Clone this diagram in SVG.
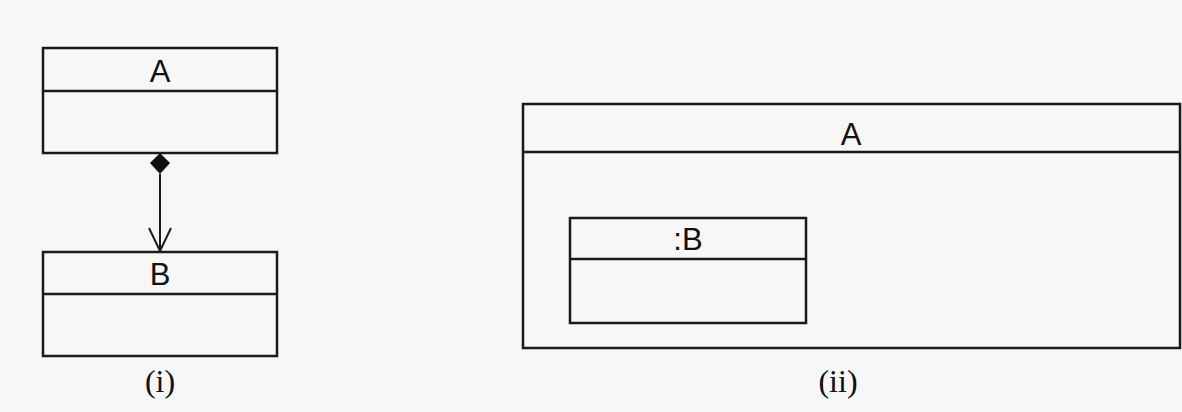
<svg xmlns="http://www.w3.org/2000/svg" width="1182" height="412" viewBox="0 0 1182 412">
<style>
.box{fill:none;stroke:#1a1a1a;stroke-width:2.5}
.lbl{font-family:"Liberation Sans",Arial,sans-serif;font-size:31px;fill:#111;text-anchor:middle}
.cap{font-family:"Liberation Serif","Times New Roman",serif;font-size:32px;fill:#111;text-anchor:middle}
</style>
<rect width="1182" height="412" fill="#f7f7f7"/>
<g id="classA">
<rect class="box" x="43" y="48" width="234" height="105"/>
<line class="box" x1="43" y1="91" x2="277" y2="91"/>
<text class="lbl" x="160" y="82">A</text>
</g>
<g id="classB">
<rect class="box" x="43" y="252" width="234" height="104"/>
<line class="box" x1="43" y1="294" x2="277" y2="294"/>
<text class="lbl" x="160" y="285">B</text>
</g>
<g id="connectors">
<polygon points="160,153 170,163 160,174 150,163" fill="#111"/>
<line x1="160" y1="174" x2="160" y2="251" stroke="#1a1a1a" stroke-width="2"/>
<polyline points="149,228 160,251 171,228" fill="none" stroke="#1a1a1a" stroke-width="2"/>
</g>
<text class="cap" x="160" y="392">(i)</text>
<g id="compositeA">
<rect class="box" x="523" y="104" width="657" height="244"/>
<line class="box" x1="523" y1="152" x2="1180" y2="152"/>
<text class="lbl" x="851" y="145">A</text>
</g>
<g id="partB">
<rect class="box" x="570" y="218" width="236" height="105"/>
<line class="box" x1="570" y1="259" x2="806" y2="259"/>
<text class="lbl" x="688" y="250">:B</text>
</g>
<text class="cap" x="838" y="392">(ii)</text>
</svg>
